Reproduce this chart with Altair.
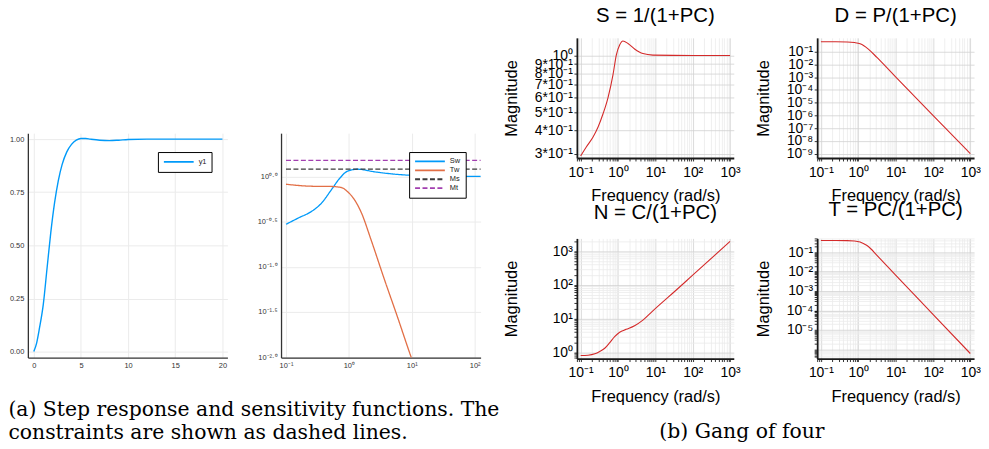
import altair as alt
import pandas as pd

SANS = "Liberation Sans"
SERIF = "DejaVu Serif"

# ---------------- step response ----------------
step_t = [0, 0.3, 0.6, 1.0, 1.4, 1.8, 2.2, 2.6, 3.0, 3.5, 4.0, 4.5, 5.0, 5.5, 6.0, 7.0, 8.0, 9.0, 10.0, 12.0, 15.0, 20.0]
step_y = [0.0, 0.04, 0.11, 0.22, 0.39, 0.56, 0.70, 0.805, 0.88, 0.94, 0.975, 0.995, 1.003, 1.003, 1.0, 0.995, 0.993, 0.995, 0.998, 1.0, 1.0, 1.0]
step_xticks = [0, 5, 10, 15, 20]
step_yticks = [0.0, 0.25, 0.5, 0.75, 1.0]

# ---------------- sensitivity functions ----------------
sw_w = [0.1, 0.158, 0.251, 0.363, 0.525, 0.708, 0.955, 1.38, 2.51, 5.25, 10, 31.6, 100, 150]
sw_m = [0.295, 0.347, 0.407, 0.501, 0.708, 0.944, 1.143, 1.2, 1.125, 1.059, 1.026, 1.007, 1.0, 1.0]
tw_w = [0.1, 0.251, 0.525, 0.759, 0.955, 1.23, 1.585, 2.24, 3.63, 5.89, 9.55, 15.8]
tw_m = [0.818, 0.778, 0.773, 0.753, 0.676, 0.550, 0.394, 0.201, 0.0741, 0.0282, 0.01047, 0.00398]
ms_w = [0.1, 150.0]
ms_m = [1.2, 1.2]
mt_w = [0.1, 150.0]
mt_m = [1.5, 1.5]
sens_series = ["Sw", "Tw", "Ms", "Mt"]
sens_colors = ["#009AF9", "#E26F46", "#3a3a3a", "#A23FB0"]
sens_dashes = [[1, 0], [1, 0], [5, 2.5], [5, 2.5]]
sens_xticks = [0.1, 1, 10, 100]
sens_xlabels = ["10⁻¹", "10⁰", "10¹", "10²"]
sens_yticks = [10 ** -2.0, 10 ** -1.5, 10 ** -1.0, 10 ** -0.5, 1.0]
sens_ylabels = ["10⁻²·⁰", "10⁻¹·⁵", "10⁻¹·⁰", "10⁻⁰·⁵", "10⁰·⁰"]

# ---------------- gang of four ----------------
s_w = [0.1, 0.143, 0.215, 0.293, 0.398, 0.541, 0.736, 0.904, 1.107, 1.358, 1.849, 2.78, 4.645, 8.57, 100, 1000]
s_m = [0.292, 0.327, 0.369, 0.417, 0.490, 0.598, 0.792, 1.009, 1.138, 1.194, 1.159, 1.084, 1.024, 1.005, 1.0, 1.0]
d_w = [0.1, 0.251, 0.501, 0.794, 1.122, 1.413, 1.862, 3.162, 10, 100, 1000]
d_m = [0.603, 0.603, 0.589, 0.525, 0.417, 0.295, 0.162, 0.0355, 1.05e-3, 1.02e-6, 1.0e-9]
n_w = [0.1, 0.158, 0.24, 0.324, 0.442, 0.603, 0.813, 1.107, 1.66, 2.78, 4.645, 8.57, 15.85, 28.05, 100, 1000]
n_m = [0.817, 0.832, 0.912, 1.072, 1.336, 1.968, 2.951, 3.981, 4.853, 6.223, 9.12, 17.18, 31.62, 54.95, 195, 1950]
t_w = [0.1, 0.251, 0.501, 0.794, 1.122, 1.413, 1.862, 3.162, 10, 100, 1000]
t_m = [0.398, 0.398, 0.394, 0.380, 0.331, 0.269, 0.197, 0.0692, 6.61e-3, 6.31e-5, 6.03e-7]

gx_major = [0.1, 1.0, 10.0, 100.0, 1000.0]
gx_labels = ["10⁻¹", "10⁰", "10¹", "10²", "10³"]
s_yticks = [0.3, 0.4, 0.5, 0.6, 0.7, 0.8, 0.9, 1.0]
s_ylabels = ["3*10⁻¹", "4*10⁻¹", "5*10⁻¹", "6*10⁻¹", "7*10⁻¹", "8*10⁻¹", "9*10⁻¹", "10⁰"]
d_yticks = [1e-1, 1e-2, 1e-3, 1e-4, 1e-5, 1e-6, 1e-7, 1e-8, 1e-9]
d_ylabels = ["10⁻¹", "10⁻²", "10⁻³", "10⁻⁴", "10⁻⁵", "10⁻⁶", "10⁻⁷", "10⁻⁸", "10⁻⁹"]
n_yticks = [1.0, 10.0, 100.0, 1000.0]
n_ylabels = ["10⁰", "10¹", "10²", "10³"]
t_yticks = [1e-1, 1e-2, 1e-3, 1e-4, 1e-5, 1e-6]
t_ylabels = ["10⁻¹", "10⁻²", "10⁻³", "10⁻⁴", "10⁻⁵", ""]

caption_a = ["(a) Step response and sensitivity functions. The",
             "constraints are shown as dashed lines."]
caption_b = "(b) Gang of four"


def minors(lo, hi, dlo, dhi):
    out = []
    for e in range(lo, hi + 1):
        for k in range(2, 10):
            v = float(f"{k}e{e}")
            if dlo <= v <= dhi:
                out.append(v)
    return out


def arr(vals):
    return "[" + ",".join(repr(float(v)) for v in vals) + "]"


def label_expr(vals, labels):
    v = arr(vals)
    l = "[" + ",".join("'" + s + "'" for s in labels) + "]"
    return f"indexof({v}, datum.value) >= 0 ? {l}[indexof({v}, datum.value)] : ''"


def major_color(vals, major, minor):
    return {"condition": {"test": f"indexof({arr(vals)}, datum.value) >= 0", "value": major}, "value": minor}


# ---------------- left panels ----------------
small_axis = dict(grid=True, gridColor="#ebebeb", gridWidth=1, domainColor="#333333", domainWidth=1.3,
                  ticks=False, labelFont=SANS, labelFontSize=7.5, labelColor="#333333", labelPadding=4,
                  labelFlush=False, labelOverlap=False, title=None)
leg_common = dict(orient="none", legendY=19, fillColor="white", strokeColor="black", padding=5,
                  symbolType="stroke", symbolSize=900, symbolStrokeWidth=1.8, labelFont=SANS,
                  labelFontSize=7.5, labelColor="#222222", rowPadding=0, labelOffset=4, title=None)

step_df = pd.DataFrame({"t": step_t, "y": step_y, "curve": ["y1"] * len(step_t)})
step = alt.Chart(step_df).mark_line(strokeWidth=1.4, clip=True, interpolate="monotone").encode(
    x=alt.X("t:Q", scale=alt.Scale(domain=[-0.63, 20.53], nice=False, zero=False),
            axis=alt.Axis(values=step_xticks, format="d", **small_axis)),
    y=alt.Y("y:Q", scale=alt.Scale(domain=[-0.028, 1.028], nice=False, zero=False),
            axis=alt.Axis(values=step_yticks, format=".2f", **small_axis)),
    color=alt.Color("curve:N", scale=alt.Scale(domain=["y1"], range=["#009AF9"]),
                    legend=alt.Legend(legendX=131, clipHeight=10, labelExpr="datum.label + '      '",
                                      **leg_common)),
).properties(width=201, height=226)

sens_df = pd.DataFrame({
    "w": sw_w + tw_w + ms_w + mt_w,
    "m": sw_m + tw_m + ms_m + mt_m,
    "series": ["Sw"] * len(sw_w) + ["Tw"] * len(tw_w) + ["Ms"] * len(ms_w) + ["Mt"] * len(mt_w),
})
sens_leg = alt.Legend(legendX=129, clipHeight=8.8, labelExpr="datum.label + '    '", **leg_common)
sens = alt.Chart(sens_df).mark_line(strokeWidth=1.3, clip=True, interpolate="monotone").encode(
    x=alt.X("w:Q", scale=alt.Scale(type="log", domain=[10 ** -1.079, 10 ** 2.095], nice=False),
            axis=alt.Axis(values=sens_xticks, labelExpr=label_expr(sens_xticks, sens_xlabels), **small_axis)),
    y=alt.Y("m:Q", scale=alt.Scale(type="log", domain=[10 ** -2.005, 10 ** 0.478], nice=False),
            axis=alt.Axis(values=sens_yticks, labelExpr=label_expr(sens_yticks, sens_ylabels), **small_axis)),
    color=alt.Color("series:N", scale=alt.Scale(domain=sens_series, range=sens_colors), legend=sens_leg),
    strokeDash=alt.StrokeDash("series:N", scale=alt.Scale(domain=sens_series, range=sens_dashes), legend=sens_leg),
).properties(width=201, height=226)

# ---------------- gang of four ----------------
GX_DOM = [10 ** -1.1, 10 ** 3.1]
gx_minor = minors(-2, 3, GX_DOM[0], GX_DOM[1])
GW, GH = 158, 121
MAJ, MIN = "#d2d2d2", "#ebebeb"


def gang(w, m, title, ydom, ymaj, ylab, ymin, ytitle_x):
    df = pd.DataFrame({"w": w, "m": m})
    common = dict(labelFont=SANS, labelFontSize=14, labelColor="black", labelOverlap=False, labelFlush=False,
                  domainColor="#1a1a1a", domainWidth=1.8, tickColor="black", tickSize=3, tickWidth=0.8,
                  grid=True, gridWidth=0.8, titleFont=SANS, titleFontSize=16.5, titleFontWeight="normal",
                  titleColor="black", titleBaseline="middle", titleAlign="center")
    xall = gx_major + gx_minor
    yall = ymaj + ymin
    return alt.Chart(df).mark_line(color="#d42a2a", strokeWidth=1.1, clip=True, interpolate="monotone").encode(
        x=alt.X("w:Q", scale=alt.Scale(type="log", domain=GX_DOM, nice=False),
                axis=alt.Axis(values=xall, labelExpr=label_expr(gx_major, gx_labels),
                              gridColor=major_color(gx_major, MAJ, MIN), labelPadding=4.5,
                              title="Frequency (rad/s)", titleX=GW / 2, titleY=38, **common)),
        y=alt.Y("m:Q", scale=alt.Scale(type="log", domain=ydom, nice=False),
                axis=alt.Axis(values=yall, labelExpr=label_expr(ymaj, ylab),
                              gridColor=major_color(ymaj, MAJ, MIN), labelPadding=1.5,
                              title="Magnitude", titleX=ytitle_x, titleY=GH / 2, titleAngle=270, **common)),
    ).properties(width=GW, height=GH, title=alt.TitleParams(
        title, font=SANS, fontSize=20.5, fontWeight="normal", color="black", anchor="middle",
        frame="group", offset=11))


S_DOM = [10 ** -0.545, 10 ** 0.094]
D_DOM = [10 ** -9.34, 10 ** 0.09]
N_DOM = [10 ** -0.18, 10 ** 3.38]
T_DOM = [10 ** -6.48, 10 ** -0.29]

g_s = gang(s_w, s_m, "S = 1/(1+PC)", S_DOM, s_yticks, s_ylabels, [], -66)
g_d = gang(d_w, d_m, "D = P/(1+PC)", D_DOM, d_yticks, d_ylabels, [], -54)
g_n = gang(n_w, n_m, "N = C/(1+PC)", N_DOM, n_yticks, n_ylabels, minors(-1, 3, N_DOM[0], N_DOM[1]), -66)
g_t = gang(t_w, t_m, "T = PC/(1+PC)", T_DOM, t_yticks, t_ylabels, minors(-7, -1, T_DOM[0], T_DOM[1]), -54)

right = alt.concat(g_s, g_d, g_n, g_t, columns=2, spacing={"row": 81, "column": 84}, bounds="flush").properties(
    title=alt.TitleParams(caption_b, orient="bottom", anchor="middle", font=SERIF, fontSize=20.5,
                          fontWeight="normal", color="black", offset=18, baseline="top"))

left_row = alt.hconcat(step, sens, spacing=54, bounds="flush").properties(
    title=alt.TitleParams(caption_a, orient="bottom", anchor="start", dx=-1, font=SERIF, fontSize=20.5,
                          fontWeight="normal", color="black", offset=31, lineHeight=24, baseline="top")
).resolve_scale(color="independent", strokeDash="independent").resolve_legend(
    color="independent", strokeDash="independent")

spacer = alt.Chart(pd.DataFrame({"v": [0]})).mark_point(opacity=0).encode(
    x=alt.value(0), y=alt.value(0)).properties(width=1, height=1)

left = alt.vconcat(spacer, left_row, spacing=93)

chart = alt.hconcat(left, right, spacing=3).properties(
    padding={"left": 0, "top": -3.5, "right": 0, "bottom": 0}
).configure_view(stroke=None)

chart.save("out.html", embed_options={"renderer": "svg", "actions": False})
